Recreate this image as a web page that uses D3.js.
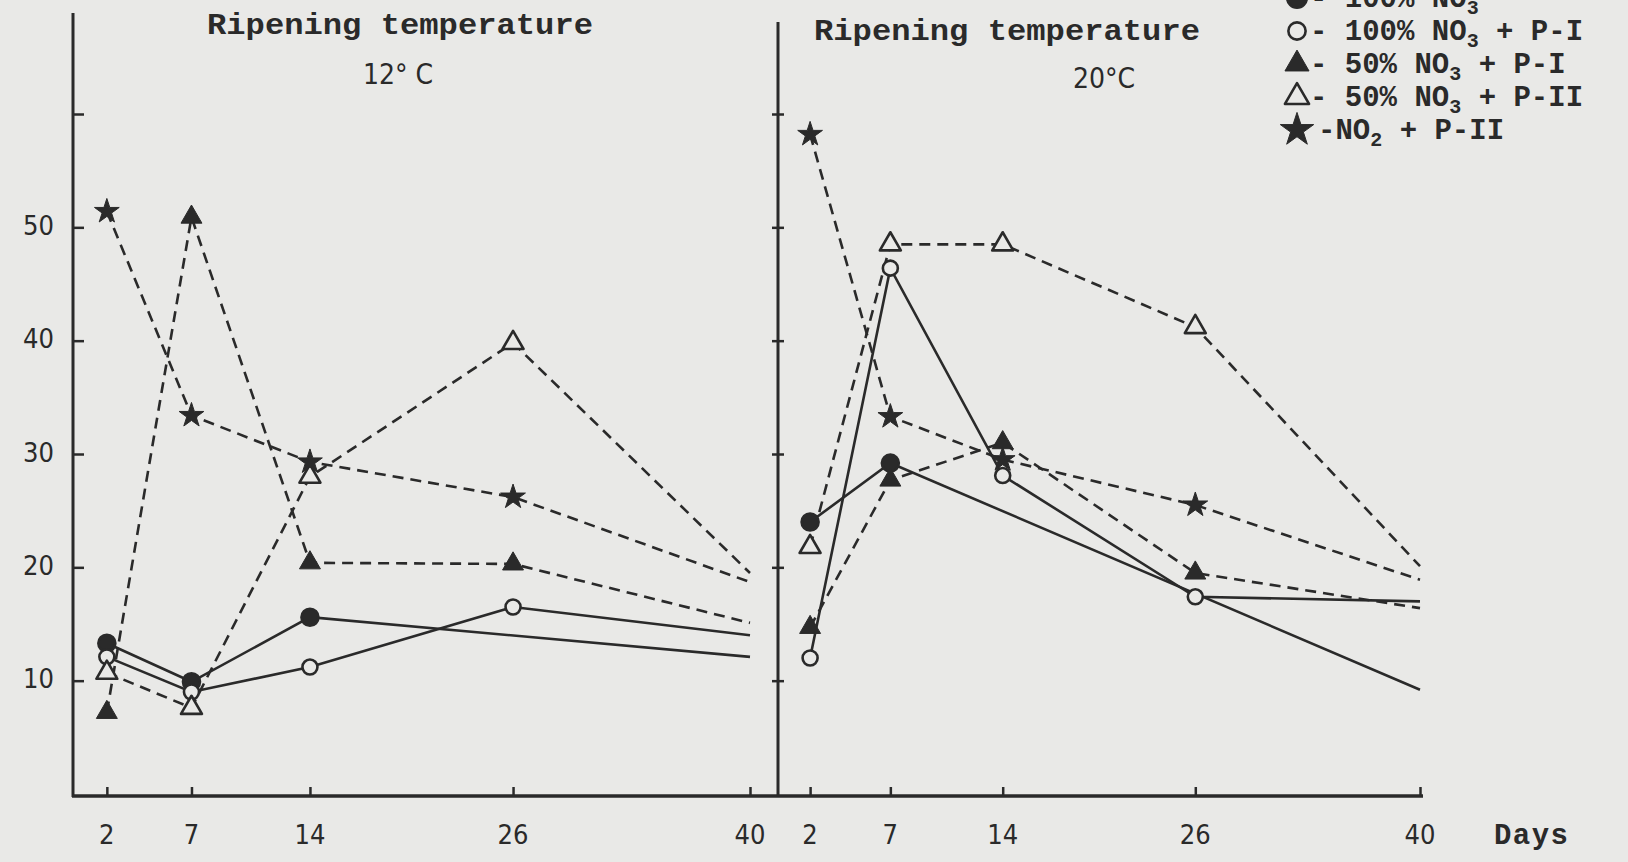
<!DOCTYPE html>
<html>
<head>
<meta charset="utf-8">
<script src="https://cdn.jsdelivr.net/npm/d3@7"></script>
<style>
  html, body { margin: 0; padding: 0; background: #e9e9e7; overflow: hidden; }
  svg { display: block; }
</style>
</head>
<body>
<svg id="chart" width="1628" height="862"></svg>
<script>
// days of ripening and drying
const days = [2, 7, 14, 26, 40]
const yTicks = [10, 20, 30, 40, 50, 60]
const yTickLabels = ["10", "20", "30", "40", "50", ""]

// nitroso-myoglobin, % of total pigment -- 12 C
const fc12 = [13.3, 9.9, 15.6, null, 12.1]
const oc12 = [12.1, 9.0, 11.2, 16.5, 14.0]
const ft12 = [7.2, 50.9, 20.4, 20.3, 15.1]
const ot12 = [10.7, 7.6, 28.0, 39.8, 19.5]
const st12 = [51.4, 33.4, 29.3, 26.2, 18.7]

// 20 C
const fc20 = [24.0, 29.2, null, null, 9.2]
const oc20 = [12.0, 46.4, 28.1, 17.4, 17.0]
const ft20 = [14.7, 27.7, 31.0, 19.5, 16.4]
const ot20 = [21.8, 48.5, 48.5, 41.2, 20.1]
const st20 = [58.2, 33.3, 29.5, 25.5, 18.9]

const seriesKeys = ["fc", "oc", "ft", "ot", "st"]
const legendMain = ["- 100% NO", "- 100% NO", "- 50% NO", "- 50% NO", "-NO"]
const legendSub = ["3", "3", "3", "3", "2"]
const legendTail = ["", " + P-I", " + P-I", " + P-II", " + P-II"]

const panels = [
  { temp: "12\u00b0 C", values: { fc: fc12, oc: oc12, ft: ft12, ot: ot12, st: st12 } },
  { temp: "20\u00b0C", values: { fc: fc20, oc: oc20, ft: ft20, ot: ot20, st: st20 } },
]

const ink = "#2a2a2a"
const paper = "#e9e9e7"
const mono = "'Liberation Mono', 'DejaVu Sans Mono', monospace"
const narrow = "'Liberation Sans Narrow', 'DejaVu Sans Condensed', 'Roboto Condensed', sans-serif"

const svg = d3.select("#chart")

svg.append("rect").attr("width", 1628).attr("height", 862).attr("fill", paper)

const y = d3.scaleLinear().domain([0, 60]).range([794, 114])
const xScales = [
  d3.scaleLinear().domain([0, 40]).range([73, 750]),
  d3.scaleLinear().domain([0, 40]).range([778, 1420]),
]

const isDashed = { fc: false, oc: false, ft: true, ot: true, st: true }

function drawMarker(g, key, cx, cy, k) {
  if (key === "fc" || key === "oc") {
    g.append("circle")
      .attr("cx", cx).attr("cy", cy)
      .attr("r", (key === "fc" ? 8.5 : 7.5) * k)
      .attr("fill", key === "fc" ? ink : paper)
      .attr("stroke", ink)
      .attr("stroke-width", 2.6)
  } else {
    const type = key === "st" ? d3.symbolStar : d3.symbolTriangle
    g.append("path")
      .attr("d", d3.symbol(type, 190 * k * k)())
      .attr("transform", `translate(${cx},${cy})`)
      .attr("fill", key === "ot" ? paper : ink)
      .attr("stroke", ink)
      .attr("stroke-width", key === "ot" ? 2.6 : 1)
      .attr("stroke-linejoin", "round")
  }
}

// axes
const axisG = svg.append("g").attr("stroke", ink).attr("fill", "none")

// left value axis
axisG.append("line").attr("x1", 73).attr("x2", 73).attr("y1", 13).attr("y2", 797).attr("stroke-width", 3)
const leftAxis = svg.append("g")
  .attr("transform", "translate(73,0)")
  .call(d3.axisRight(y).tickValues(yTicks).tickSize(11).tickFormat(""))
leftAxis.select(".domain").remove()
leftAxis.selectAll("line").attr("stroke", ink).attr("stroke-width", 2.5)

svg.append("g")
  .selectAll("text")
  .data(yTicks)
  .join("text")
  .attr("x", 54)
  .attr("y", d => y(d))
  .attr("text-anchor", "end")
  .attr("dominant-baseline", "middle")
  .attr("font-family", narrow)
  .attr("font-size", 27)
  .attr("fill", ink)
  .text((d, i) => yTickLabels[i])

// right value axis (ticks both sides)
axisG.append("line").attr("x1", 778).attr("x2", 778).attr("y1", 22).attr("y2", 797).attr("stroke-width", 3)
const rightAxis = svg.append("g")
  .attr("transform", "translate(772,0)")
  .call(d3.axisRight(y).tickValues(yTicks).tickSize(12).tickFormat(""))
rightAxis.select(".domain").remove()
rightAxis.selectAll("line").attr("stroke", ink).attr("stroke-width", 2.5)

// day axis
axisG.append("line").attr("x1", 72).attr("x2", 1423).attr("y1", 796).attr("y2", 796).attr("stroke-width", 3.4)
xScales.forEach(x => {
  const ax = svg.append("g")
    .attr("transform", "translate(0,796)")
    .call(d3.axisTop(x).tickValues(days).tickSize(9).tickFormat(""))
  ax.select(".domain").remove()
  ax.selectAll("line").attr("stroke", ink).attr("stroke-width", 2.5)

  svg.append("g")
    .selectAll("text")
    .data(days)
    .join("text")
    .attr("x", d => x(d))
    .attr("y", 836)
    .attr("text-anchor", "middle")
    .attr("dominant-baseline", "middle")
    .attr("font-family", narrow)
    .attr("font-size", 27)
    .attr("fill", ink)
    .text(d => d)
})

svg.append("text")
  .attr("x", 1494).attr("y", 836)
  .attr("dominant-baseline", "middle")
  .attr("font-family", mono)
  .attr("font-weight", "bold")
  .attr("font-size", 29)
  .attr("textLength", 74)
  .attr("fill", ink)
  .text("Days")

// titles
const titleX = [400, 1007]
const titleY = [26, 32]
const tempX = [398, 1104]
const tempY = [76, 80]

panels.forEach((p, pi) => {
  svg.append("text")
    .attr("x", titleX[pi]).attr("y", titleY[pi])
    .attr("text-anchor", "middle")
    .attr("dominant-baseline", "middle")
    .attr("font-family", mono)
    .attr("font-weight", "bold")
    .attr("font-size", 30)
    .attr("textLength", 386)
    .attr("lengthAdjust", "spacingAndGlyphs")
    .attr("fill", ink)
    .text("Ripening temperature")

  svg.append("text")
    .attr("x", tempX[pi]).attr("y", tempY[pi])
    .attr("text-anchor", "middle")
    .attr("dominant-baseline", "middle")
    .attr("font-family", narrow)
    .attr("font-size", 28)
    .attr("fill", ink)
    .text(p.temp)
})

// series
const line = d3.line().x(d => d.x).y(d => d.y)

panels.forEach((p, pi) => {
  const x = xScales[pi]
  const g = svg.append("g")
  seriesKeys.forEach(key => {
    const pts = days
      .map((d, i) => ({ day: d, v: p.values[key][i] }))
      .filter(d => d.v != null)
      .map(d => ({ x: x(d.day), y: y(d.v) }))
    g.append("path")
      .attr("d", line(pts))
      .attr("fill", "none")
      .attr("stroke", ink)
      .attr("stroke-width", 2.6)
      .attr("stroke-dasharray", isDashed[key] ? "11,7" : null)
  })
  // no markers on the last day
  seriesKeys.forEach(key => {
    days.forEach((d, i) => {
      const v = p.values[key][i]
      if (v == null || d === 40) return
      drawMarker(g, key, x(d), y(v), 1)
    })
  })
})

// legend
const legendTop = -2
const legendStep = 33
const lg = svg.append("g")
seriesKeys.forEach((key, i) => {
  const cy = legendTop + i * legendStep
  drawMarker(lg, key, 1297, cy, key === "st" ? 1.35 : 1.15)
  const t = lg.append("text")
    .attr("x", key === "st" ? 1318 : 1310)
    .attr("y", cy + 9)
    .attr("font-family", mono)
    .attr("font-weight", "bold")
    .attr("font-size", 29)
    .attr("fill", ink)
  t.append("tspan").text(legendMain[i])
  t.append("tspan").attr("dy", 7).attr("font-size", 20).text(legendSub[i])
  t.append("tspan").attr("dy", -7).text(legendTail[i])
})
</script>
</body>
</html>
